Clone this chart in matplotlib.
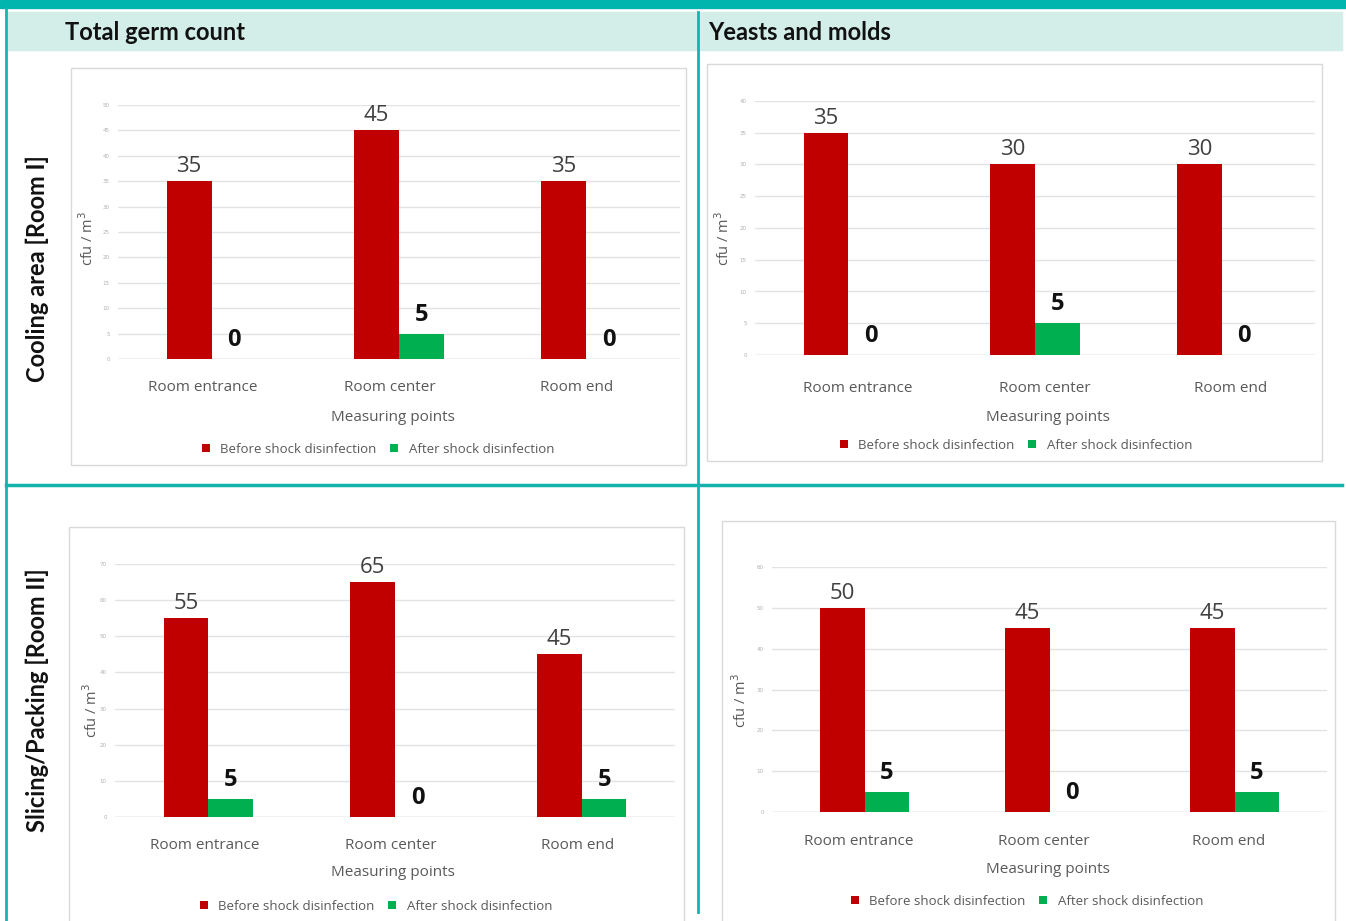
import matplotlib.pyplot as plt
from matplotlib.patches import Rectangle
from matplotlib.lines import Line2D

W, H = 1346, 921
RED = "#c00000"
GREEN = "#00b050"
TEAL = "#12b5ad"
BAND = "#d3ede9"

# ======================================================
# Data
# ======================================================
categories = ["Room entrance", "Room center", "Room end"]

germ_room1_before = [35, 45, 35]
germ_room1_after = [0, 5, 0]
yeast_room1_before = [35, 30, 30]
yeast_room1_after = [0, 5, 0]

germ_room2_before = [55, 65, 45]
germ_room2_after = [5, 0, 5]
yeast_room2_before = [50, 45, 45]
yeast_room2_after = [5, 0, 5]

col_titles = ["Total germ count", "Yeasts and molds"]
row_titles = ["Cooling area [Room I]", "Slicing/Packing [Room II]"]


def fx(x):
    return x / W


def fy(y):
    return 1 - y / H


fig = plt.figure(figsize=(W / 100, H / 100), dpi=100)

# ======================================================
# Frame: teal bars, header band, dividers
# ======================================================
fig.patches.append(Rectangle((0, fy(8)), 1, 8 / H, transform=fig.transFigure,
                             color="#00b5ad", zorder=0))
fig.patches.append(Rectangle((fx(8), fy(50)), fx(1334), 38 / H, transform=fig.transFigure,
                             color=BAND, zorder=0))
fig.add_artist(Line2D([fx(6), fx(6)], [fy(8), 0], color=TEAL, lw=2))
fig.add_artist(Line2D([fx(698), fx(698)], [fy(12), fy(912)], color=TEAL, lw=2))
fig.add_artist(Line2D([fx(6), fx(1342)], [fy(485), fy(485)], color=TEAL, lw=2.5))

fig.text(fx(65), fy(32), col_titles[0], fontsize=17, fontweight="bold",
         family="Lato", va="center", ha="left", color="#111111")
fig.text(fx(708), fy(32), col_titles[1], fontsize=17, fontweight="bold",
         family="Lato", va="center", ha="left", color="#111111")
fig.text(fx(37), fy(269), row_titles[0], fontsize=17, fontweight="bold",
         family="Lato", va="center", ha="center", rotation=90, color="#111111")
fig.text(fx(37), fy(700), row_titles[1], fontsize=17, fontweight="bold",
         family="Lato", va="center", ha="center", rotation=90, color="#111111")

# ======================================================
# Panels
# ======================================================
panels = [
    dict(before=germ_room1_before, after=germ_room1_after, ymax=50, step=5,
         box=(71, 68, 686, 465), ax=(118, 680, 105, 359),
         xlab=(393, 417), ylab=(88, 238), leg=(378, 449), tick_pad=15, shift=-0.05),
    dict(before=yeast_room1_before, after=yeast_room1_after, ymax=40, step=5,
         box=(707, 64, 1322, 461), ax=(755, 1315, 101, 355),
         xlab=(1048, 417), ylab=(724, 238), leg=(1016, 445), tick_pad=19, shift=0.05),
    dict(before=germ_room2_before, after=germ_room2_after, ymax=70, step=10,
         box=(69, 527, 684, 925), ax=(115, 675, 564, 817),
         xlab=(393, 872), ylab=(92, 710), leg=(376, 906), tick_pad=15, shift=-0.02),
    dict(before=yeast_room2_before, after=yeast_room2_after, ymax=60, step=10,
         box=(722, 521, 1335, 925), ax=(772, 1327, 567, 812),
         xlab=(1048, 869), ylab=(741, 700), leg=(1027, 901), tick_pad=16, shift=-0.03),
]

x = list(range(len(categories)))
bw = 0.24

for p in panels:
    bx0, by0, bx1, by1 = p["box"]
    fig.patches.append(Rectangle((fx(bx0), fy(by1)), fx(bx1 - bx0), (by1 - by0) / H,
                                 transform=fig.transFigure, fill=False,
                                 edgecolor="#d9d9d9", lw=1, zorder=0))
    l, r, t, b = p["ax"]
    ax = fig.add_axes([fx(l), fy(b), fx(r - l), (b - t) / H])
    ax.set_xlim(-0.5, 2.5)
    ax.set_ylim(0, p["ymax"])

    rb = ax.bar([i - bw / 2 for i in x], p["before"], width=bw, color=RED,
                label="Before shock disinfection", zorder=3)
    gb = ax.bar([i + bw / 2 for i in x], p["after"], width=bw, color=GREEN,
                label="After shock disinfection", zorder=3)

    for i, v in enumerate(p["before"]):
        ax.annotate(str(v), (i - bw / 2, v), xytext=(0, 3), textcoords="offset points",
                    ha="center", va="bottom", fontsize=16, color="#404040",
                    family="Open Sans", annotation_clip=False)
    for i, v in enumerate(p["after"]):
        ax.annotate(str(v), (i + bw / 2, v), xytext=(0, 5), textcoords="offset points",
                    ha="center", va="bottom", fontsize=17, color="#111111",
                    fontweight="bold", family="Open Sans", annotation_clip=False)

    ax.set_yticks(range(0, p["ymax"] + 1, p["step"]))
    ax.tick_params(axis="y", length=0, labelsize=4, labelcolor="#b0b0b0", pad=6)
    ax.set_xticks([i + p["shift"] for i in x])
    ax.set_xticklabels(categories, fontsize=11, color="#595959", family="Open Sans")
    ax.tick_params(axis="x", length=0, pad=p["tick_pad"])
    ax.grid(axis="y", color="#e3e3e3", lw=1, zorder=0)
    ax.set_axisbelow(True)
    for s in ax.spines.values():
        s.set_visible(False)
    ax.axhline(0, color="#d9d9d9", lw=1, zorder=1)

    fig.text(fx(p["xlab"][0]), fy(p["xlab"][1]), "Measuring points", fontsize=11,
             color="#595959", family="Open Sans", ha="center", va="center")
    fig.text(fx(p["ylab"][0]), fy(p["ylab"][1]), "cfu / m$^3$", fontsize=10.5,
             color="#595959", family="Open Sans", ha="center", va="center", rotation=90)

    ax.legend(handles=[rb, gb], loc="center", ncol=2, frameon=False,
              bbox_to_anchor=(fx(p["leg"][0]), fy(p["leg"][1])),
              bbox_transform=fig.transFigure, handlelength=0.6,
              handleheight=0.6, handletextpad=0.8, columnspacing=1.0,
              labelcolor="#595959", prop={"family": "Open Sans", "size": 9.5})

fig.savefig("out.png", dpi=100)
